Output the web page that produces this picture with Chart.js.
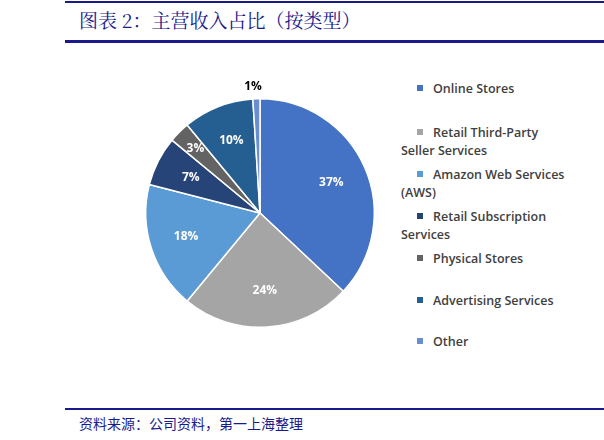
<!DOCTYPE html>
<html><head><meta charset="utf-8">
<script src="https://cdn.jsdelivr.net/npm/chart.js@4"></script>
<style>
body{margin:0;width:604px;height:440px;background:#fff;position:relative;font-family:"Noto Sans CJK SC",sans-serif;overflow:hidden}
.line{position:absolute;left:65px;right:0;background:#1a1a8c}
#title{position:absolute;left:79px;top:6px;font-size:19px;color:#1a1a8c;font-family:"Noto Serif CJK SC","Noto Sans CJK SC",serif}
#foot{position:absolute;left:79px;top:413px;font-size:14px;color:#1a1a8c}
#wrap{position:absolute;left:130px;top:78px;width:260px;height:270px}
#legend{position:absolute;left:417px;top:80px;font-family:"Open Sans",sans-serif;font-weight:600;font-size:12.5px;color:#404040}
.item{position:absolute;left:0;width:170px;line-height:18px}
.sw{display:inline-block;width:6px;height:6px;margin-right:10px;vertical-align:2px}
</style></head><body>
<div class="line" style="top:1px;height:2px"></div>
<div id="title">图表 2：主营收入占比（按类型）</div>
<div class="line" style="top:40px;height:3px"></div>
<div id="wrap"><canvas id="c"></canvas></div>
<div id="legend"></div>
<div class="line" style="top:408px;height:2px"></div>
<div id="foot">资料来源：公司资料，第一上海整理</div>
<script>
// revenue share by segment (%)
const labels = ['Online Stores', 'Retail Third-Party\nSeller Services', 'Amazon Web Services\n(AWS)', 'Retail Subscription\nServices', 'Physical Stores', 'Advertising Services', 'Other'];
const shares = [37, 24, 18, 7, 3, 10, 1];
const colors = ['#4472C4', '#A5A5A5', '#5B9BD5', '#264478', '#636363', '#255E91', '#698ED0'];
const legendTops = [0, 44, 86, 128, 170, 212, 253];

const legend = document.getElementById('legend');
labels.forEach((l, i) => {
    const d = document.createElement('div');
    d.className = 'item';
    d.style.top = legendTops[i] + 'px';
    const parts = l.split('\n');
    d.innerHTML = '<span class="sw" style="background:' + colors[i] + '"></span>' + parts[0] + (parts[1] ? '<br>' + parts[1] : '');
    if (parts[1]) d.innerHTML = d.innerHTML.replace('<br>', '<br><span style="margin-left:-16px"></span>');
    legend.appendChild(d);
});

// draws the percent labels on the slices
const pctLabels = {
    id: 'pctLabels',
    afterDatasetsDraw(chart) {
        const ctx = chart.ctx;
        const meta = chart.getDatasetMeta(0);
        ctx.save();
        ctx.font = 'bold 12px "Open Sans", sans-serif';
        ctx.textAlign = 'center';
        ctx.textBaseline = 'middle';
        meta.data.forEach((arc, i) => {
            const mid = (arc.startAngle + arc.endAngle) / 2;
            const outside = shares[i] < 2;
            const r = outside ? arc.outerRadius + 12 : arc.outerRadius * (shares[i] < 5 ? 0.8 : 0.68);
            const x = arc.x + Math.cos(mid) * r;
            const y = arc.y + Math.sin(mid) * r;
            ctx.fillStyle = outside ? '#000' : '#fff';
            ctx.fillText(shares[i] + '%', outside ? x - 3 : x, y);
        });
        ctx.restore();
    }
};

new Chart(document.getElementById('c'), {
    type: 'pie',
    data: {
        labels: labels,
        datasets: [{ data: shares, backgroundColor: colors, borderColor: '#fff', borderWidth: 1.5 }]
    },
    options: {
        responsive: true,
        maintainAspectRatio: false,
        animation: false,
        layout: { padding: { top: 20, bottom: 20, left: 15, right: 15 } },
        plugins: { legend: { display: false }, tooltip: { enabled: false } }
    },
    plugins: [pctLabels]
});
</script>
</body></html>
